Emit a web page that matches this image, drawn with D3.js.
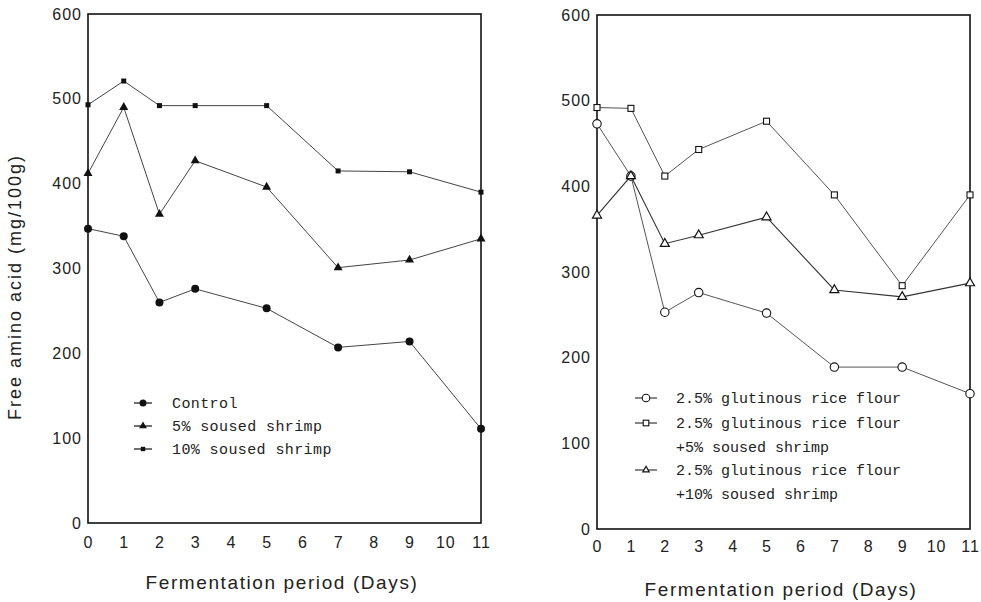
<!DOCTYPE html>
<html><head><meta charset="utf-8">
<script src="https://cdn.jsdelivr.net/npm/d3@7/dist/d3.min.js"></script>
<style>body{margin:0;background:#fff}svg{display:block}</style>
</head><body>
<svg id="c" width="981" height="602"></svg>
<script>
const days = [0, 1, 2, 3, 5, 7, 9, 11];
const xTicks = [0,1,2,3,4,5,6,7,8,9,10,11];
const yTicks = [0,100,200,300,400,500,600];

const leftNames = ["Control", "5% soused shrimp", "10% soused shrimp"];
const control = [347, 338, 260, 276, 253, 207, 214, 111];
const shrimp5 = [412, 490, 364, 427, 396, 301, 310, 335];
const shrimp10 = [493, 521, 492, 492, 492, 415, 414, 390];

const rightNames = [["2.5% glutinous rice flour"], ["2.5% glutinous rice flour", "+5% soused shrimp"], ["2.5% glutinous rice flour", "+10% soused shrimp"]];
const rice = [473, 412, 253, 276, 252, 189, 189, 158];
const rice5 = [492, 491, 412, 443, 476, 390, 284, 390];
const rice10 = [366, 412, 333, 343, 364, 279, 271, 287];

const xTitle = "Fermentation period (Days)";
const yTitle = "Free amino acid (mg/100g)";

const svg = d3.select("#c");
const sans = "'Liberation Sans', Arial, sans-serif";
const mono = "'Liberation Mono', 'DejaVu Sans Mono', monospace";

function panel(x0, x1, y0, y1, xPad) {
  const x = d3.scaleLinear().domain([0, 11]).range([x0, x1]);
  const y = d3.scaleLinear().domain([0, 600]).range([y1, y0]);
  const g = svg.append("g");
  g.append("rect").attr("x", x0).attr("y", y0).attr("width", x1 - x0).attr("height", y1 - y0)
    .attr("fill", "none").attr("stroke", "#111").attr("stroke-width", 1.6);
  const ya = g.append("g").attr("transform", `translate(${x0},0)`)
    .call(d3.axisLeft(y).tickValues(yTicks).tickSize(0).tickPadding(6));
  const xa = g.append("g").attr("transform", `translate(0,${y1})`)
    .call(d3.axisBottom(x).tickValues(xTicks).tickSize(0).tickPadding(xPad));
  [ya, xa].forEach(a => {
    a.select(".domain").remove();
    a.selectAll("text").attr("font-family", sans).attr("font-size", 16)
      .attr("fill", "#222").attr("letter-spacing", 1);
  });
  return {g, x, y};
}

function series(p, vals, marker, r, lineW, color) {
  const line = d3.line().x((d, i) => p.x(days[i])).y(d => p.y(d));
  p.g.append("path").attr("d", line(vals)).attr("fill", "none")
    .attr("stroke", color).attr("stroke-width", lineW);
  vals.forEach((v, i) => drawMarker(p.g, p.x(days[i]), p.y(v), marker, r));
}

function drawMarker(g, cx, cy, marker, r) {
  if (marker === "fcircle") {
    g.append("circle").attr("cx", cx).attr("cy", cy).attr("r", r).attr("fill", "#111");
  } else if (marker === "ftri") {
    g.append("path").attr("d", d3.symbol(d3.symbolTriangle, r * r * 2.2)())
      .attr("transform", `translate(${cx},${cy})`).attr("fill", "#111");
  } else if (marker === "fsq") {
    g.append("rect").attr("x", cx - r).attr("y", cy - r).attr("width", 2 * r).attr("height", 2 * r).attr("fill", "#111");
  } else if (marker === "ocircle") {
    g.append("circle").attr("cx", cx).attr("cy", cy).attr("r", r).attr("fill", "#fff").attr("stroke", "#111").attr("stroke-width", 1.1);
  } else if (marker === "osq") {
    g.append("rect").attr("x", cx - r).attr("y", cy - r).attr("width", 2 * r).attr("height", 2 * r)
      .attr("fill", "#fff").attr("stroke", "#111").attr("stroke-width", 1.1);
  } else if (marker === "otri") {
    g.append("path").attr("d", d3.symbol(d3.symbolTriangle, r * r * 2.2)())
      .attr("transform", `translate(${cx},${cy})`).attr("fill", "#fff").attr("stroke", "#111").attr("stroke-width", 1.2);
  }
}

// Left panel
const L = panel(88, 481, 14, 523, 14);
series(L, control, "fcircle", 4, 1, "#444");
series(L, shrimp5, "ftri", 4, 1, "#444");
series(L, shrimp10, "fsq", 2.5, 1, "#444");

// Right panel
const R = panel(597, 970, 15, 529, 12);
series(R, rice, "ocircle", 4.2, 1, "#555");
series(R, rice5, "osq", 3, 1, "#555");
series(R, rice10, "otri", 4, 1.1, "#333");

// Left legend
const lMarkers = ["fcircle", "ftri", "fsq"];
const lRows = [403, 426, 449];
leftNames.forEach((n, i) => {
  svg.append("line").attr("x1", 134).attr("x2", 152).attr("y1", lRows[i]).attr("y2", lRows[i]).attr("stroke", "#111").attr("stroke-width", 1.2);
  drawMarker(svg, 143, lRows[i], lMarkers[i], i === 2 ? 2.2 : 3.5);
  svg.append("text").attr("x", 172).attr("y", lRows[i] + 5).text(n)
    .attr("font-family", mono).attr("font-size", 15).attr("letter-spacing", 0.4).attr("fill", "#222");
});

// Right legend
const rMarkers = ["ocircle", "osq", "otri"];
const rRows = [398, 423, 470];
rightNames.forEach((lines, i) => {
  svg.append("line").attr("x1", 635).attr("x2", 657).attr("y1", rRows[i]).attr("y2", rRows[i]).attr("stroke", "#111").attr("stroke-width", 1);
  drawMarker(svg, 646, rRows[i], rMarkers[i], i === 0 ? 3.8 : 2.8);
  lines.forEach((t, j) => {
    svg.append("text").attr("x", 676).attr("y", rRows[i] + 5 + j * 23.5).text(t)
      .attr("font-family", mono).attr("font-size", 15).attr("fill", "#222");
  });
});

// Axis titles
svg.append("text").attr("x", 282).attr("y", 589).attr("text-anchor", "middle").text(xTitle)
  .attr("font-family", sans).attr("font-size", 19).attr("letter-spacing", 1.6).attr("fill", "#222");
svg.append("text").attr("x", 781).attr("y", 596).attr("text-anchor", "middle").text(xTitle)
  .attr("font-family", sans).attr("font-size", 19).attr("letter-spacing", 1.6).attr("fill", "#222");
svg.append("text").attr("transform", "translate(21,287) rotate(-90)").attr("text-anchor", "middle").text(yTitle)
  .attr("font-family", sans).attr("font-size", 18).attr("letter-spacing", 2).attr("fill", "#222");
</script>
</body></html>
